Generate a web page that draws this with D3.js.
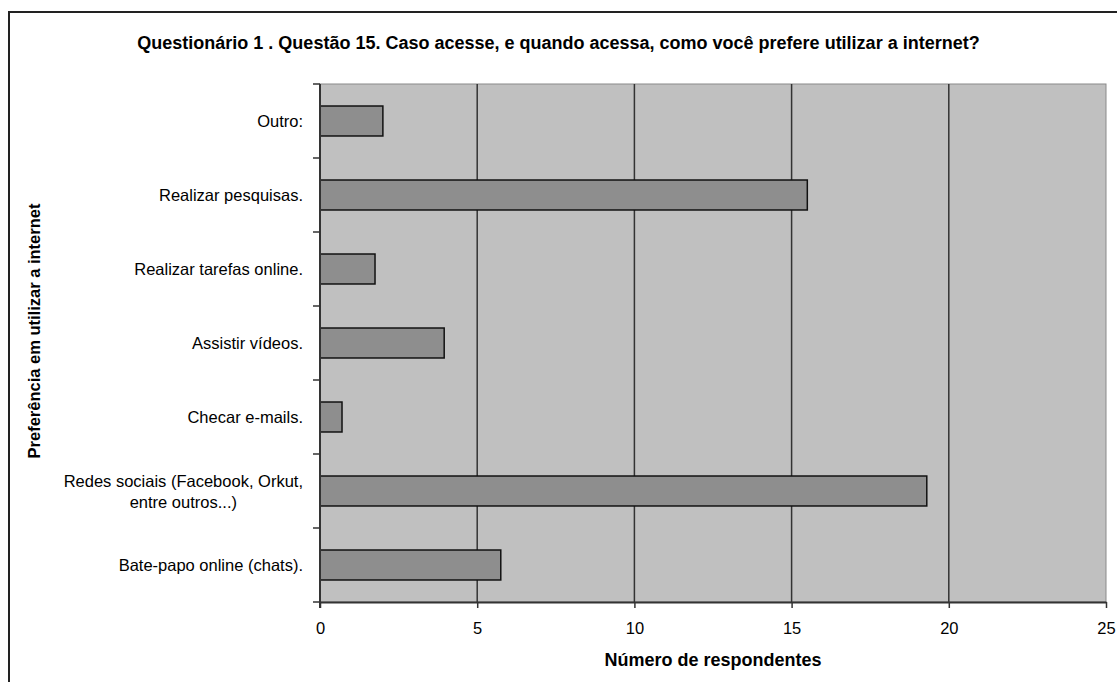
<!DOCTYPE html>
<html>
<head>
<meta charset="utf-8">
<script src="https://cdn.jsdelivr.net/npm/d3@7"></script>
<style>
  body { margin: 0; background: #fff; }
  svg text { font-family: "Liberation Sans", Arial, sans-serif; fill: #000; }
</style>
</head>
<body>
<svg id="chart" width="1117" height="682"></svg>
<script>
// data, top to bottom
var categories = [
  ["Outro:"],
  ["Realizar pesquisas."],
  ["Realizar tarefas online."],
  ["Assistir vídeos."],
  ["Checar e-mails."],
  ["Redes sociais (Facebook, Orkut,", "entre outros...)"],
  ["Bate-papo online (chats)."]
];
var values = [2, 15.5, 1.75, 3.95, 0.7, 19.3, 5.75];
var xTicks = [0, 5, 10, 15, 20, 25];

var titleText = "Questionário 1 . Questão 15. Caso acesse, e quando acessa, como você prefere utilizar a internet?";
var xTitle = "Número de respondentes";
var yTitle = "Preferência em utilizar a internet";

const svg    = d3.select("#chart"),
      margin = {top: 84, right: 11, bottom: 80, left: 320},
      width  = +svg.attr("width")  - margin.left - margin.right,
      height = +svg.attr("height") - margin.top  - margin.bottom;

var idx = d3.range(values.length);

var x = d3.scaleLinear().domain([0, 25]).range([0, width]);
var y = d3.scaleBand().domain(idx).range([0, height])
          .paddingInner(0.595).paddingOuter(0.2975);

// outer frame (only top and left visible in the reference)
svg.append("path")
    .attr("d", "M9,682 V12 H1117")
    .attr("fill", "none")
    .attr("stroke", "#222")
    .attr("stroke-width", 2);

svg.append("text")
    .attr("x", 558.5)
    .attr("y", 49)
    .attr("text-anchor", "middle")
    .style("font-size", "18px")
    .style("font-weight", "bold")
    .text(titleText);

var g = svg.append("g")
    .attr("transform", `translate(${margin.left},${margin.top})`);

// plot area
g.append("rect")
    .attr("width", width)
    .attr("height", height)
    .attr("fill", "#c0c0c0")
    .attr("stroke", "#8a8a8a")
    .attr("stroke-width", 1);

// vertical gridlines
g.selectAll(".grid")
  .data(xTicks.slice(1, -1))
  .enter().append("line")
    .attr("class", "grid")
    .attr("x1", d => x(d)).attr("x2", d => x(d))
    .attr("y1", 0).attr("y2", height)
    .attr("stroke", "#333")
    .attr("stroke-width", 1.5);

// bars
g.selectAll(".bar")
  .data(idx)
  .enter().append("rect")
    .attr("class", "bar")
    .attr("x", 0)
    .attr("y", i => y(i))
    .attr("width", i => x(values[i]))
    .attr("height", y.bandwidth())
    .attr("fill", "#8e8e8e")
    .attr("stroke", "#111")
    .attr("stroke-width", 1.5);

// x axis
var xAxis = g.append("g")
    .attr("transform", `translate(0,${height})`)
    .call(d3.axisBottom(x).tickValues(xTicks).tickSize(6).tickPadding(14).tickSizeOuter(0));
xAxis.select(".domain").attr("stroke", "#333").attr("stroke-width", 2);
xAxis.selectAll(".tick line").attr("stroke", "#333").attr("stroke-width", 1.5);
xAxis.selectAll(".tick text")
    .style("font-size", "16.5px")
    .attr("font-family", null);

// y axis: ticks on the band boundaries
var step = y.step();
var bounds = d3.range(values.length + 1).map(i => i * step);
g.append("line")
    .attr("x1", 0).attr("x2", 0)
    .attr("y1", 0).attr("y2", height + 6)
    .attr("stroke", "#333")
    .attr("stroke-width", 2);
g.selectAll(".ytick")
  .data(bounds)
  .enter().append("line")
    .attr("class", "ytick")
    .attr("x1", -7).attr("x2", 0)
    .attr("y1", d => d).attr("y2", d => d)
    .attr("stroke", "#333")
    .attr("stroke-width", 1.5);

// category labels (multi-line ones centered on each other, block right aligned)
idx.forEach(function(i) {
  var lines = categories[i];
  var cy = y(i) + y.bandwidth() / 2;
  var lh = 21;
  var t = g.append("text")
      .style("font-size", "16.5px")
      .attr("text-anchor", "end");
  lines.forEach(function(s, k) {
    t.append("tspan")
      .attr("x", -17)
      .attr("y", cy + (k - (lines.length - 1) / 2) * lh + 6)
      .text(s);
  });
  if (lines.length > 1) {
    var w = d3.max(t.selectAll("tspan").nodes(), n => n.getComputedTextLength());
    t.attr("text-anchor", "middle");
    t.selectAll("tspan").attr("x", -17 - w / 2);
  }
});

// axis titles
svg.append("text")
    .attr("x", margin.left + width / 2)
    .attr("y", 666)
    .attr("text-anchor", "middle")
    .style("font-size", "18px")
    .style("font-weight", "bold")
    .text(xTitle);

svg.append("text")
    .attr("transform", "translate(40,331) rotate(-90)")
    .attr("text-anchor", "middle")
    .style("font-size", "16.5px")
    .style("font-weight", "bold")
    .text(yTitle);
</script>
</body>
</html>
